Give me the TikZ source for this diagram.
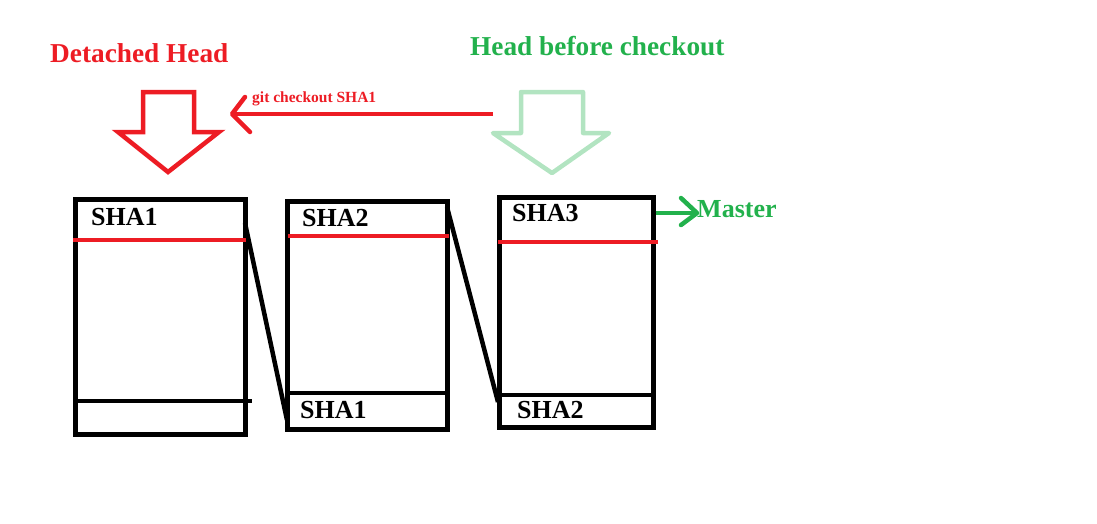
\documentclass[tikz,border=0pt]{standalone}
\usepackage{fontspec}
\setmainfont{Liberation Serif}
\definecolor{pred}{RGB}{237,28,36}
\definecolor{pgreen}{RGB}{34,177,76}
\definecolor{pale}{RGB}{178,228,193}
\begin{document}
\begin{tikzpicture}[x=1pt,y=-1pt,
  commit/.style={draw=black,line width=5pt,inner sep=0pt},
  lbl/.style={anchor=base west,inner sep=0pt,font=\fontsize{26}{28}\selectfont\bfseries},
  title/.style={anchor=base west,inner sep=0pt,font=\fontsize{27.3}{30}\selectfont\bfseries}]
\useasboundingbox (0,0) rectangle (1097,523);
% commit boxes
\node[commit,minimum width=170pt,minimum height=235pt] (b1) at (160,316.5) {};
\node[commit,minimum width=160pt,minimum height=228pt] (b2) at (367,315) {};
\node[commit,minimum width=154pt,minimum height=230pt] (b3) at (576,312) {};
% separators
\draw[pred,line width=4.5pt] (73,240) -- (246,240);
\draw[black,line width=4.5pt] (73,401) -- (252,401);
\draw[pred,line width=4.5pt] (288,236) -- (449,236);
\draw[black,line width=4.5pt] (288,393) -- (447,393);
\draw[pred,line width=4.5pt] (498,242) -- (658,242);
\draw[black,line width=4.5pt] (499,395) -- (655,395);
% labels
\node[lbl] (s1) at (91,225) {SHA1};
\node[lbl] (s2) at (302,226) {SHA2};
\node[lbl] (s2p) at (300,418) {SHA1};
\node[lbl] (s3) at (512,221) {SHA3};
\node[lbl] (s3p) at (517,418) {SHA2};
% parent links
\coordinate (l1a) at (245,223);
\coordinate (l1b) at (287,420);
\coordinate (l2a) at (447,207);
\coordinate (l2b) at (498,402);
\draw[black,line width=4.5pt] (l1a) -- (l1b);
\draw[black,line width=4.5pt] (l2a) -- (l2b);
% titles
\node[title,text=pred] (dh) at (50,62) {Detached Head};
\node[title,text=pgreen] (hb) at (470,55) {Head before checkout};
% block arrows
\draw[pred,line width=4.5pt,line join=miter] (143,92) -- (194,92) -- (194,132) -- (219,132) -- (168,172) -- (118,132) -- (143,132) -- cycle;
\draw[pale,line width=4.5pt,line join=round] (521,92) -- (583,92) -- (583,133) -- (609,133) -- (552,173) -- (493,133) -- (521,133) -- cycle;
% git checkout arrow
\coordinate (gs) at (493,114);
\coordinate (gt) at (232,114);
\draw[pred,line width=4.5pt] (gs) -- (gt);
\draw[pred,line width=4.5pt,line cap=round,line join=round] (245,97) -- (gt) -- (250,132);
\node[anchor=base west,inner sep=0pt,text=pred,font=\fontsize{15.5}{17}\selectfont\bfseries] (gc) at (252,102) {git checkout SHA1};
% master
\coordinate (mt) at (697,213);
\draw[pgreen,line width=4.5pt] (b3.east |- mt) -- (mt);
\draw[pgreen,line width=4.5pt,line cap=round,line join=round] (681,198) -- (mt) -- (681,225);
\node[anchor=base west,inner sep=0pt,text=pgreen,font=\fontsize{26}{28}\selectfont\bfseries] (ms) at (697,217) {Master};
\end{tikzpicture}
\end{document}
